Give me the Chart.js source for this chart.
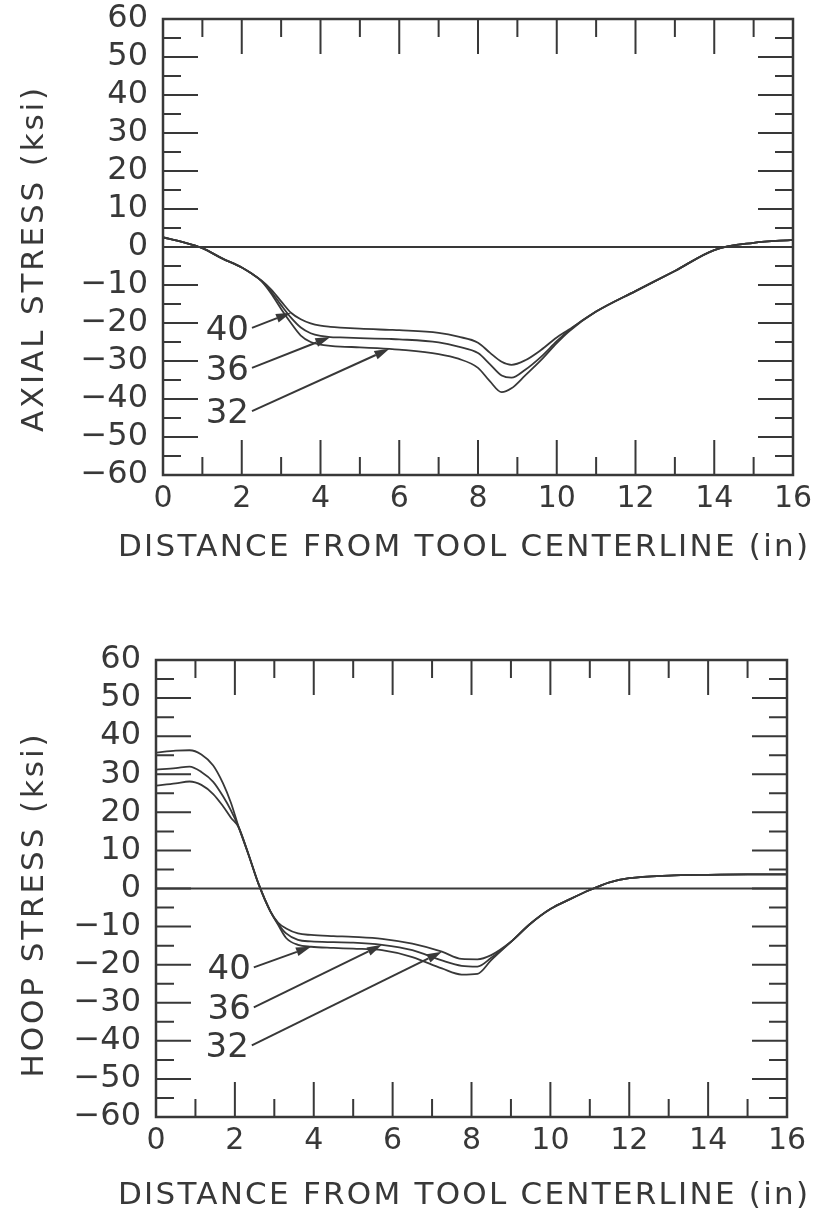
<!DOCTYPE html>
<html>
<head>
<meta charset="utf-8">
<script src="https://cdn.jsdelivr.net/npm/chart.js@4/dist/chart.umd.min.js"></script>
<style>
  body { margin: 0; background: #fff; }
  canvas { position: absolute; left: 0; }
</style>
</head>
<body>
<canvas id="axialChart" style="top:0" width="814" height="600"></canvas>
<canvas id="hoopChart" style="top:600px" width="814" height="616"></canvas>
<script>
// distance from tool centerline (in) and stress (ksi) for the three curves
const axialX = [0, 0.5, 1, 1.5, 2, 2.25, 2.5, 2.75, 3, 3.25, 3.5, 3.75, 4, 4.25, 4.5, 5, 5.75, 6, 7, 7.5, 8, 8.3, 8.6, 8.85, 9.2, 9.6, 10, 10.3, 11, 12, 13, 14, 15, 16];
const axial40 = [2.5, 1.3, -0.3, -3.0, -5.4, -7.0, -8.8, -11.2, -14.3, -17.3, -19.0, -20.1, -20.7, -21.0, -21.2, -21.5, -21.8, -21.9, -22.6, -23.6, -25.2, -27.8, -30.2, -31.0, -29.8, -27.1, -23.8, -21.8, -17.0, -11.6, -6.3, -0.8, 1.1, 1.9];
const axial36 = [2.5, 1.3, -0.3, -3.0, -5.4, -7.0, -8.9, -11.8, -15.3, -18.6, -21.2, -22.7, -23.4, -23.7, -23.8, -24.0, -24.2, -24.3, -25.1, -26.2, -27.9, -30.8, -33.8, -34.4, -32.3, -28.9, -24.8, -22.0, -17.0, -11.6, -6.3, -0.8, 1.1, 1.9];
const axial32 = [2.5, 1.3, -0.3, -3.0, -5.4, -7.0, -9.0, -12.3, -16.3, -20.0, -23.3, -25.0, -25.7, -26.0, -26.2, -26.4, -26.8, -27.0, -28.2, -29.4, -31.8, -35.3, -38.2, -37.2, -33.8, -29.8, -25.3, -22.3, -17.0, -11.6, -6.3, -0.8, 1.1, 1.9];

const hoopX = [0, 0.5, 0.85, 1.15, 1.45, 1.7, 1.9, 2.1, 2.35, 2.6, 2.9, 3.1, 3.3, 3.6, 3.93, 4.5, 5, 5.73, 6.5, 7.25, 7.75, 8.15, 8.5, 9, 9.5, 10, 10.5, 11, 11.5, 12, 13, 14, 15, 16];
const hoop40 = [35.7, 36.2, 36.3, 35.2, 32.3, 27.6, 22.5, 16.0, 8.8, 1.2, -6.0, -9.6, -13.0, -14.8, -15.3, -15.6, -15.8, -16.2, -18.0, -21.0, -22.6, -22.4, -18.8, -14.0, -9.2, -5.4, -2.8, -0.4, 1.6, 2.7, 3.4, 3.6, 3.7, 3.7];
const hoop36 = [31.2, 31.6, 32.0, 30.6, 28.0, 24.2, 20.5, 16.0, 8.8, 1.2, -6.0, -9.3, -11.8, -13.5, -13.9, -14.1, -14.2, -14.8, -16.2, -18.9, -20.3, -20.5, -18.2, -14.0, -9.2, -5.4, -2.8, -0.4, 1.6, 2.7, 3.4, 3.6, 3.7, 3.7];
const hoop32 = [27.0, 27.6, 28.1, 27.2, 24.8, 21.6, 18.6, 16.0, 8.8, 1.2, -6.0, -9.0, -10.5, -11.8, -12.2, -12.5, -12.7, -13.2, -14.5, -16.6, -18.5, -18.6, -17.5, -14.0, -9.2, -5.4, -2.8, -0.4, 1.6, 2.7, 3.4, 3.6, 3.7, 3.7];

// curve tags: label, where the leader starts (x, y), index of the point it points at
const tagLabels = ['40', '36', '32'];
const axialTagStartX = [2.26, 2.26, 2.26];
const axialTagStartY = [-21.3, -31.8, -43.2];
const axialTagPoint = [9, 13, 16];
const hoopTagStartX = [2.48, 2.48, 2.43];
const hoopTagStartY = [-20.7, -31.2, -41.2];
const hoopTagPoint = [14, 17, 19];

const ink = '#383838';
const face = '"DejaVu Sans", sans-serif';

function pts(xs, ys) {
    return xs.map((x, i) => ({x: x, y: ys[i]}));
}

function fmtStress(v) {
    return v < 0 ? '\u2212' + Math.abs(v) : String(v);
}

// box, inward ticks on all four sides, leader arrows and spaced axis titles
const decorations = {
    id: 'decorations',
    afterDatasetsDraw(chart, args, opts) {
        const {ctx, chartArea: a, scales: {x, y}} = chart;
        ctx.save();
        ctx.strokeStyle = ink;
        ctx.lineWidth = 2.5;
        ctx.strokeRect(a.left, a.top, a.right - a.left, a.bottom - a.top);

        ctx.lineWidth = 2;
        ctx.beginPath();
        for (let v = 1; v < 16; v++) {
            const px = x.getPixelForValue(v);
            const len = v % 2 ? 18 : 35;
            ctx.moveTo(px, a.top); ctx.lineTo(px, a.top + len);
            ctx.moveTo(px, a.bottom); ctx.lineTo(px, a.bottom - len);
        }
        for (let v = -55; v < 60; v += 5) {
            const py = y.getPixelForValue(v);
            const len = v % 10 ? 18 : 35;
            ctx.moveTo(a.left, py); ctx.lineTo(a.left + len, py);
            ctx.moveTo(a.right, py); ctx.lineTo(a.right - len, py);
        }
        ctx.stroke();

        // leaders from the tag numbers to their curves
        ctx.fillStyle = ink;
        ctx.font = '34px ' + face;
        ctx.textAlign = 'right';
        ctx.textBaseline = 'middle';
        opts.tags.forEach((t, i) => {
            const sx = x.getPixelForValue(t.x);
            const sy = y.getPixelForValue(t.y);
            const p = chart.getDatasetMeta(i + 1).data[t.point];
            const ang = Math.atan2(p.y - sy, p.x - sx);
            const hl = 15, hw = 4.5;
            const bx = p.x - hl * Math.cos(ang), by = p.y - hl * Math.sin(ang);
            ctx.lineWidth = 2;
            ctx.beginPath();
            ctx.moveTo(sx, sy);
            ctx.lineTo(bx, by);
            ctx.stroke();
            ctx.beginPath();
            ctx.moveTo(p.x, p.y);
            ctx.lineTo(bx + hw * Math.sin(ang), by - hw * Math.cos(ang));
            ctx.lineTo(bx - hw * Math.sin(ang), by + hw * Math.cos(ang));
            ctx.closePath();
            ctx.fill();
            ctx.fillText(t.label, sx - 3, sy + 3);
        });

        // axis titles, stretched to their lettered width
        ctx.font = '31px ' + face;
        ctx.textAlign = 'left';
        const spaced = (text, cx, cy, span, rot) => {
            ctx.letterSpacing = '0px';
            const w = ctx.measureText(text).width;
            ctx.letterSpacing = ((span - w) / (text.length - 1)) + 'px';
            ctx.save();
            ctx.translate(cx, cy);
            ctx.rotate(rot);
            ctx.fillText(text, -span / 2, 0);
            ctx.restore();
        };
        spaced(opts.xTitle, opts.xTitlePos[0], opts.xTitlePos[1], opts.xTitlePos[2], 0);
        spaced(opts.yTitle, opts.yTitlePos[0], opts.yTitlePos[1], opts.yTitlePos[2], -Math.PI / 2);
        ctx.restore();
    }
};

function makeChart(id, xs, series, box, titles, tags) {
    const lines = series.map(s => ({
        data: pts(xs, s),
        borderColor: ink,
        borderWidth: 1.8,
        pointRadius: 0,
        cubicInterpolationMode: 'monotone'
    }));
    lines.unshift({
        data: [{x: 0, y: 0}, {x: 16, y: 0}],
        borderColor: ink,
        borderWidth: 1.8,
        pointRadius: 0
    });
    return new Chart(document.getElementById(id), {
        type: 'line',
        data: {datasets: lines},
        options: {
            responsive: false,
            animation: false,
            layout: {padding: {top: box.top, right: box.right, left: 0, bottom: 0}},
            plugins: {
                legend: {display: false},
                tooltip: {enabled: false},
                decorations: Object.assign({tags: tags}, titles)
            },
            scales: {
                x: {
                    type: 'linear', min: 0, max: 16,
                    grid: {display: false, drawTicks: false, tickLength: 0},
                    border: {display: false},
                    ticks: {stepSize: 2, autoSkip: false, maxRotation: 0, color: ink, padding: 6, font: {family: face, size: 30}},
                    afterFit: s => {
                        s.height = box.xHeight;
                        s.paddingLeft = 0;
                        s.paddingRight = 0;
                    }
                },
                y: {
                    type: 'linear', min: -60, max: 60,
                    grid: {display: false, drawTicks: false, tickLength: 0},
                    border: {display: false},
                    ticks: {stepSize: 10, autoSkip: false, color: ink, padding: 15, font: {family: face, size: 32}, callback: fmtStress},
                    afterFit: s => {
                        s.width = box.yWidth;
                        s.paddingTop = 0;
                        s.paddingBottom = 0;
                    }
                }
            }
        },
        plugins: [decorations]
    });
}

function tagList(xs, ys, idx) {
    return tagLabels.map((l, i) => ({label: l, x: xs[i], y: ys[i], point: idx[i]}));
}

makeChart('axialChart', axialX, [axial40, axial36, axial32],
    {top: 19, right: 21, yWidth: 163, xHeight: 125},
    {xTitle: 'DISTANCE FROM TOOL CENTERLINE (in)', xTitlePos: [463, 548, 690],
     yTitle: 'AXIAL STRESS (ksi)', yTitlePos: [35, 260, 344]},
    tagList(axialTagStartX, axialTagStartY, axialTagPoint));

makeChart('hoopChart', hoopX, [hoop40, hoop36, hoop32],
    {top: 60, right: 27, yWidth: 156, xHeight: 99},
    {xTitle: 'DISTANCE FROM TOOL CENTERLINE (in)', xTitlePos: [463, 596, 690],
     yTitle: 'HOOP STRESS (ksi)', yTitlePos: [35, 306, 343]},
    tagList(hoopTagStartX, hoopTagStartY, hoopTagPoint));
</script>
</body>
</html>
